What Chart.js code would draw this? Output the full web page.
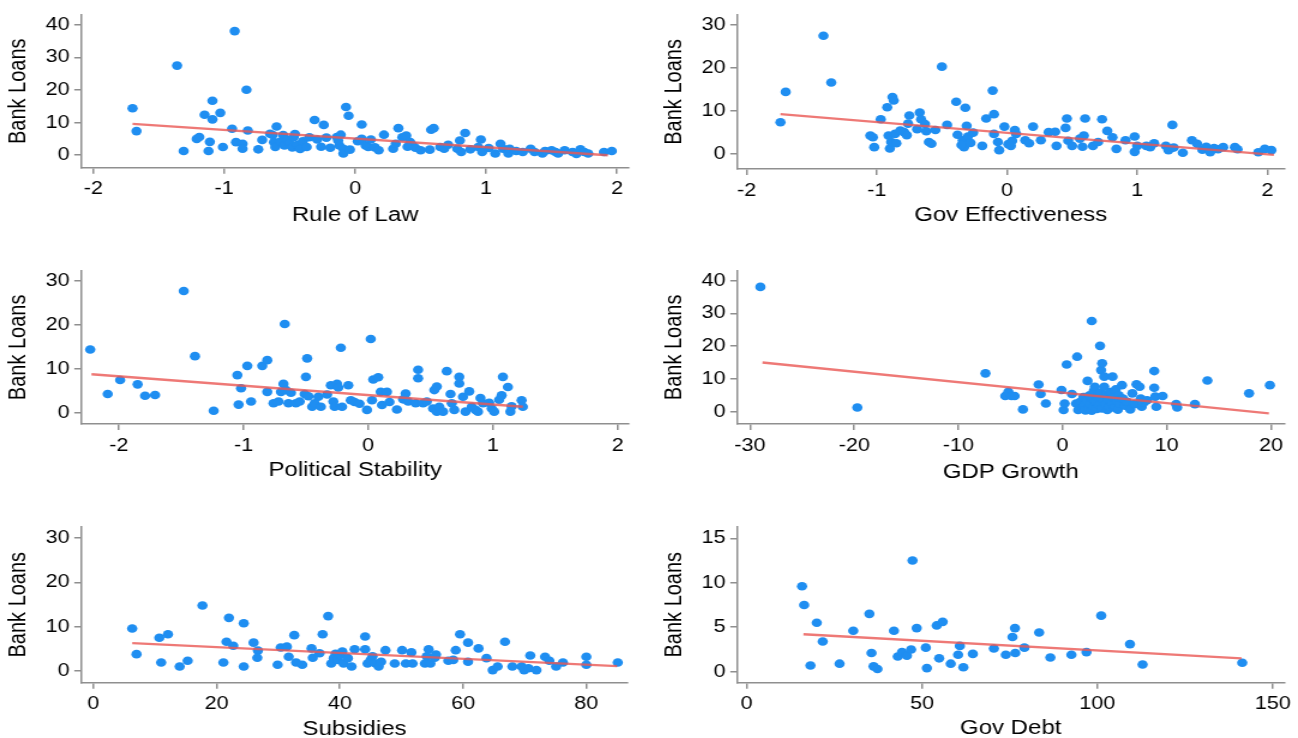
<!DOCTYPE html>
<html>
<head>
<meta charset="utf-8">
<script src="https://cdn.jsdelivr.net/npm/chart.js@4.4.1/dist/chart.umd.min.js"></script>
<style>
  html, body { margin: 0; padding: 0; background: #fff; overflow: hidden; }
  /* the source figure is stretched sideways, so the canvases are too */
  canvas { position: absolute; transform: scaleX(1.2); transform-origin: 0 0; }
</style>
</head>
<body>
<canvas id="ruleOfLaw" width="534" height="260" style="left:0px;top:0px"></canvas>
<canvas id="govEff" width="540" height="260" style="left:650px;top:0px"></canvas>
<canvas id="polStab" width="534" height="260" style="left:0px;top:250px"></canvas>
<canvas id="gdpGrowth" width="540" height="260" style="left:650px;top:250px"></canvas>
<canvas id="subsidies" width="534" height="260" style="left:0px;top:490px"></canvas>
<canvas id="govDebt" width="540" height="260" style="left:650px;top:490px"></canvas>
<script>
// data: [x, bank loans]
const ruleOfLawPts = [[-1.70,14.4],[-1.67,7.4],[-1.36,27.5],[-1.31,1.3],[-0.92,38.1],[-0.83,20.1],[-1.09,16.7],[-1.15,12.4],[-1.03,13.0],[-1.09,11.0],[-1.21,5.0],[-1.19,5.6],[-1.11,4.1],[-1.12,1.3],[-1.01,2.5],[-0.94,8.1],[-0.91,4.0],[-0.86,3.5],[-0.86,2.0],[-0.82,7.6],[-0.74,1.8],[-0.71,4.7],[-0.65,6.6],[-0.63,6.2],[-0.60,8.8],[-0.62,4.0],[-0.61,2.5],[-0.57,4.2],[-0.55,6.2],[-0.54,3.0],[-0.52,4.8],[-0.50,3.6],[-0.48,2.4],[-0.47,5.5],[-0.46,6.5],[-0.44,3.2],[-0.42,1.9],[-0.40,4.3],[-0.37,2.5],[-0.35,5.5],[-0.31,10.8],[-0.24,9.3],[-0.29,4.8],[-0.26,2.6],[-0.22,5.4],[-0.19,2.3],[-0.14,5.6],[-0.12,3.0],[-0.13,4.5],[-0.09,2.0],[-0.07,14.8],[-0.05,12.1],[-0.09,0.5],[-0.04,1.7],[-0.11,6.3],[0.02,4.3],[0.05,9.4],[0.05,5.0],[0.08,3.0],[0.10,2.5],[0.12,4.8],[0.15,2.4],[0.18,1.5],[0.22,6.3],[0.29,2.0],[0.33,8.3],[0.31,3.5],[0.36,5.5],[0.39,6.0],[0.42,4.0],[0.44,3.0],[0.46,2.3],[0.40,2.6],[0.50,1.5],[0.57,1.7],[0.58,7.8],[0.60,8.3],[0.65,2.5],[0.68,2.0],[0.71,3.2],[0.78,2.0],[0.80,4.5],[0.81,1.0],[0.84,6.8],[0.88,1.8],[0.94,2.5],[0.96,4.8],[0.97,1.0],[1.02,2.2],[1.07,0.5],[1.11,3.5],[1.13,2.0],[1.17,0.5],[1.18,2.0],[1.23,1.3],[1.28,1.0],[1.34,2.0],[1.37,1.0],[1.43,0.5],[1.45,1.3],[1.50,1.5],[1.53,1.0],[1.55,0.5],[1.60,1.5],[1.66,1.0],[1.69,0.4],[1.72,1.8],[1.75,1.0],[1.78,0.5],[1.90,1.0],[1.96,1.3]];
const govEffPts = [[-1.74,7.3],[-1.70,14.4],[-1.41,27.5],[-1.35,16.6],[-1.05,4.2],[-1.03,3.8],[-1.02,1.5],[-0.97,8.0],[-0.92,10.8],[-0.88,13.2],[-0.87,12.4],[-0.90,1.2],[-0.89,2.7],[-0.91,4.2],[-0.85,2.4],[-0.86,4.6],[-0.82,5.4],[-0.79,5.0],[-0.76,7.0],[-0.75,8.9],[-0.77,4.3],[-0.69,5.7],[-0.67,9.6],[-0.66,8.0],[-0.63,6.9],[-0.62,5.2],[-0.60,2.7],[-0.58,2.3],[-0.55,5.5],[-0.46,6.7],[-0.50,20.3],[-0.39,12.1],[-0.32,10.7],[-0.38,4.4],[-0.34,3.1],[-0.31,6.5],[-0.33,1.5],[-0.30,4.0],[-0.28,2.5],[-0.26,4.9],[-0.35,2.0],[-0.19,1.8],[-0.16,8.2],[-0.11,14.7],[-0.10,9.2],[-0.10,4.6],[-0.06,0.8],[-0.02,6.3],[-0.07,2.7],[0.01,2.2],[0.04,3.0],[0.06,5.5],[0.07,4.6],[0.03,1.8],[0.14,3.1],[0.17,2.4],[0.20,6.3],[0.26,3.1],[0.32,5.0],[0.37,5.1],[0.38,1.8],[0.45,6.0],[0.46,8.2],[0.47,3.0],[0.50,1.8],[0.56,3.5],[0.58,1.6],[0.60,8.2],[0.59,4.2],[0.66,1.8],[0.70,2.7],[0.73,8.0],[0.77,5.3],[0.81,3.8],[0.84,1.1],[0.91,3.1],[0.98,4.0],[0.98,0.4],[1.00,1.8],[1.07,1.8],[1.10,1.5],[1.13,2.4],[1.22,1.8],[1.24,0.8],[1.27,6.7],[1.28,1.4],[1.35,0.2],[1.42,3.1],[1.46,2.3],[1.50,0.9],[1.53,1.6],[1.56,0.3],[1.59,1.3],[1.62,1.0],[1.66,1.5],[1.75,1.5],[1.77,1.0],[1.93,0.3],[1.98,1.1],[2.03,0.8]];
const polStabPts = [[-2.23,14.4],[-2.09,4.3],[-1.99,7.5],[-1.85,6.5],[-1.79,3.9],[-1.71,4.1],[-1.48,27.7],[-1.39,12.9],[-1.24,0.5],[-1.05,8.6],[-1.04,1.9],[-1.02,5.6],[-0.97,10.7],[-0.94,2.6],[-0.85,10.7],[-0.81,12.0],[-0.81,4.8],[-0.76,2.2],[-0.72,2.6],[-0.70,4.8],[-0.68,6.6],[-0.67,20.2],[-0.66,5.2],[-0.64,2.2],[-0.62,4.6],[-0.58,2.2],[-0.55,2.6],[-0.50,8.2],[-0.49,12.4],[-0.51,4.3],[-0.48,3.8],[-0.45,1.4],[-0.43,2.2],[-0.40,3.7],[-0.38,1.4],[-0.33,4.2],[-0.30,6.3],[-0.28,2.6],[-0.27,1.4],[-0.25,6.6],[-0.24,5.8],[-0.22,14.8],[-0.21,1.4],[-0.16,6.3],[-0.14,2.9],[-0.11,2.5],[-0.07,2.1],[-0.01,0.7],[0.02,16.8],[0.03,2.9],[0.04,7.6],[0.08,8.1],[0.10,4.8],[0.11,1.8],[0.15,4.8],[0.17,2.5],[0.23,0.8],[0.28,3.1],[0.30,4.4],[0.32,2.6],[0.38,2.2],[0.40,9.8],[0.40,7.9],[0.44,2.2],[0.47,2.6],[0.53,5.2],[0.55,6.0],[0.52,1.0],[0.55,0.3],[0.57,1.4],[0.60,0.3],[0.63,9.5],[0.66,4.3],[0.67,2.2],[0.69,0.7],[0.73,8.2],[0.73,6.7],[0.76,3.7],[0.78,0.3],[0.81,4.9],[0.83,1.4],[0.86,0.7],[0.88,0.3],[0.90,3.4],[0.92,2.2],[0.97,2.3],[0.99,1.0],[1.01,0.3],[1.05,3.0],[1.08,8.2],[1.07,4.0],[1.12,5.9],[1.14,0.3],[1.15,1.5],[1.23,2.9],[1.24,1.4]];
const gdpGrowthPts = [[-29.0,38.1],[-19.7,1.3],[-7.4,11.7],[-5.5,4.8],[-5.2,6.1],[-4.9,4.8],[-4.6,4.8],[-3.8,0.7],[-2.3,8.3],[-2.1,5.4],[-1.6,2.5],[-0.1,6.6],[0.1,0.5],[0.2,2.5],[0.4,14.4],[0.9,5.4],[1.4,16.8],[1.3,2.5],[1.5,0.5],[1.7,3.0],[1.9,1.3],[2.0,4.5],[2.1,2.0],[2.2,0.4],[2.3,3.5],[2.4,9.4],[2.5,1.0],[2.6,5.0],[2.7,2.3],[2.8,27.7],[2.8,0.3],[2.9,4.0],[3.0,6.4],[3.0,1.6],[3.1,7.6],[3.2,3.0],[3.3,0.8],[3.4,4.6],[3.5,2.0],[3.6,20.1],[3.6,5.8],[3.7,12.7],[3.8,14.8],[3.8,1.0],[3.9,3.2],[4.0,10.7],[4.0,7.6],[4.1,2.2],[4.2,5.2],[4.3,0.5],[4.4,3.8],[4.5,1.5],[4.6,6.0],[4.7,2.8],[4.8,10.7],[4.9,4.3],[5.0,1.2],[5.1,6.8],[5.2,3.4],[5.3,0.6],[5.4,5.0],[5.5,2.5],[5.7,8.1],[5.8,4.0],[6.0,1.8],[6.2,3.0],[6.5,0.7],[6.7,5.6],[6.9,2.3],[7.1,8.4],[7.4,7.6],[7.5,4.0],[7.6,1.5],[7.8,2.8],[8.1,3.5],[8.8,12.4],[8.8,7.3],[8.9,4.6],[9.0,1.5],[9.6,4.8],[10.9,2.3],[11.0,1.3],[12.7,2.3],[13.9,9.5],[17.9,5.6],[19.9,8.1]];
const subsidiesPts = [[6.3,9.6],[7.0,3.8],[10.7,7.5],[11.0,1.9],[12.1,8.3],[14.0,1.0],[15.3,2.3],[17.7,14.8],[21.1,1.9],[21.6,6.6],[22.0,12.0],[22.7,5.7],[24.4,10.8],[24.4,1.0],[26.0,6.4],[26.7,4.6],[26.6,3.0],[29.9,1.4],[30.4,5.3],[31.4,5.5],[31.7,3.2],[32.6,8.1],[32.9,1.9],[33.9,1.4],[35.4,5.1],[35.6,3.0],[36.7,4.0],[37.2,8.3],[38.1,12.4],[38.6,1.7],[39.0,2.9],[39.3,3.9],[39.7,2.5],[40.0,3.6],[40.4,4.4],[40.6,1.7],[41.3,2.9],[41.9,1.0],[42.4,4.9],[44.1,7.8],[44.1,4.9],[44.5,1.7],[45.0,2.5],[45.3,3.3],[45.8,1.7],[46.3,1.0],[46.7,2.1],[47.4,4.7],[48.9,1.7],[50.1,4.7],[50.7,1.7],[51.6,4.2],[51.8,1.7],[53.8,1.7],[54.1,3.3],[54.4,4.9],[54.7,1.7],[55.4,3.0],[55.6,3.7],[57.6,2.3],[58.4,2.5],[58.8,4.7],[59.5,8.3],[60.8,6.4],[60.8,2.1],[62.5,5.1],[63.8,2.9],[64.8,0.2],[65.6,1.0],[66.8,6.6],[68.0,1.0],[69.5,1.0],[69.9,0.2],[70.6,0.6],[70.9,3.5],[71.9,0.2],[73.3,3.2],[74.0,2.3],[75.1,1.0],[76.2,1.9],[80.0,3.2],[80.0,1.4],[85.1,1.9]];
const govDebtPts = [[15.8,9.6],[16.4,7.5],[18.2,0.7],[20.0,5.5],[21.7,3.4],[26.5,0.9],[30.4,4.6],[35.0,6.5],[35.6,2.1],[36.2,0.6],[37.3,0.3],[42.0,4.6],[43.1,1.7],[44.3,2.2],[45.7,1.8],[46.9,2.5],[47.3,12.5],[48.5,4.9],[51.1,2.7],[51.4,0.4],[54.2,5.2],[54.9,1.5],[55.9,5.6],[58.2,0.9],[60.3,1.9],[60.8,2.9],[61.8,0.5],[64.5,2.0],[70.5,2.6],[73.9,1.9],[75.8,3.9],[76.5,4.9],[76.6,2.1],[79.2,2.7],[83.4,4.4],[86.6,1.6],[92.6,1.9],[96.9,2.2],[101.1,6.3],[109.3,3.1],[112.9,0.8],[141.3,1.0]];

// fitted lines, end points
const ruleOfLawFit = [[-1.70,9.6],[1.93,0.0]];
const govEffFit = [[-1.74,9.2],[2.05,-0.3]];
const polStabFit = [[-2.22,8.8],[1.24,1.4]];
const gdpGrowthFit = [[-28.8,15.0],[19.8,-0.5]];
const subsidiesFit = [[6.3,6.3],[85.0,1.1]];
const govDebtFit = [[16.2,4.2],[141.1,1.5]];

// tick labels
const govTicks = [-2, -1, 0, 1, 2];
const gdpTicks = [-30, -20, -10, 0, 10, 20];
const subsidyTicks = [0, 20, 40, 60, 80];
const debtTicks = [0, 50, 100, 150];
const loans40 = [0, 10, 20, 30, 40];
const loans30 = [0, 10, 20, 30];
const loans15 = [0, 5, 10, 15];

const FONT = "'Liberation Sans', Arial, sans-serif";
const AXIS = '#8f8f8f';

function toXY(arr) {
    return arr.map(p => ({ x: p[0], y: p[1] }));
}

// g = plot box inside the (unstretched) canvas, plus title offsets
function drawPanel(id, pts, fit, xTitle, xTicks, xMin, xMax, yTicks, yMin, yMax, g) {
    const cv = document.getElementById(id);
    const W = cv.width, H = cv.height;
    new Chart(cv.getContext('2d'), {
        type: 'scatter',
        data: {
            datasets: [{
                type: 'line',
                data: toXY(fit),
                borderColor: 'rgba(234, 88, 84, 0.8)',
                borderWidth: 2.4,
                pointRadius: 0,
                fill: false,
                order: 0
            }, {
                data: toXY(pts),
                backgroundColor: '#1f8ef1',
                borderWidth: 0,
                pointRadius: 4.3,
                order: 1
            }]
        },
        options: {
            responsive: false,
            animation: false,
            layout: { padding: { left: 0, top: g.top, right: W - g.right, bottom: 0 } },
            plugins: { legend: { display: false }, tooltip: { enabled: false } },
            scales: {
                x: {
                    type: 'linear',
                    min: xMin, max: xMax,
                    afterBuildTicks: a => { a.ticks = xTicks.map(v => ({ value: v })); },
                    afterFit: a => { a.height = H - g.bottom; },
                    grid: { drawOnChartArea: false, tickLength: 6, color: AXIS, lineWidth: 1.5 },
                    border: { color: AXIS, width: 1.5 },
                    ticks: { color: '#000', padding: 5, font: { family: FONT, size: 18 } },
                    title: { display: true, text: xTitle, color: '#000', padding: { top: 0, bottom: g.xt }, font: { family: FONT, size: 20 } }
                },
                y: {
                    type: 'linear',
                    min: yMin, max: yMax,
                    afterBuildTicks: a => { a.ticks = yTicks.map(v => ({ value: v })); },
                    afterFit: a => { a.width = g.left; },
                    grid: { drawOnChartArea: false, tickLength: 6, color: AXIS, lineWidth: 1.5 },
                    border: { color: AXIS, width: 1.5 },
                    ticks: { color: '#000', padding: 4, font: { family: FONT, size: 18 } },
                    title: { display: true, text: 'Bank Loans', color: '#000', padding: { top: g.yt, bottom: 0 }, font: { family: FONT, size: 20 } }
                }
            }
        }
    });
}

drawPanel('ruleOfLaw', ruleOfLawPts, ruleOfLawFit, 'Rule of Law', govTicks, -2.09, 2.09, loans40, -3.84, 43.1,
    { left: 67.9, right: 524.0, top: 12.3, bottom: 167.7, xt: 33, yt: 3.4 });
drawPanel('govEff', govEffPts, govEffFit, 'Gov Effectiveness', govTicks, -2.07, 2.127, loans30, -3.6, 32.4,
    { left: 72.9, right: 528.3, top: 12.3, bottom: 169, xt: 33, yt: 8 });
drawPanel('polStab', polStabPts, polStabFit, 'Political Stability', govTicks, -2.30, 2.09, loans30, -2.5, 32.3,
    { left: 67.9, right: 524.0, top: 20.7, bottom: 174, xt: 28, yt: 3.4 });
drawPanel('gdpGrowth', gdpGrowthPts, gdpGrowthFit, 'GDP Growth', gdpTicks, -31.2, 21.25, loans40, -3.76, 43.05,
    { left: 72.9, right: 528.3, top: 20.7, bottom: 174, xt: 26, yt: 8 });
drawPanel('subsidies', subsidiesPts, subsidiesFit, 'Subsidies', subsidyTicks, -1.93, 86.7, loans30, -2.65, 32.6,
    { left: 67.9, right: 523.0, top: 36.7, bottom: 192.7, xt: 9, yt: 3.4 });
drawPanel('govDebt', govDebtPts, govDebtFit, 'Gov Debt', debtTicks, -2.6, 153.2, loans15, -1.24, 16.3,
    { left: 72.9, right: 528.3, top: 36.7, bottom: 192.7, xt: 10, yt: 8 });
</script>
</body>
</html>
